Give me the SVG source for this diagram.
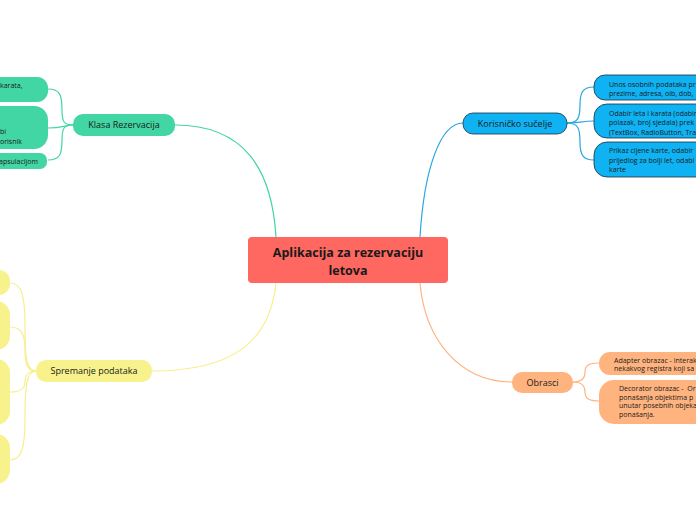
<svg xmlns="http://www.w3.org/2000/svg" width="696" height="520" viewBox="0 0 696 520">
<style>
text{font-family:"Open Sans","DejaVu Sans",sans-serif;fill:#1a1a1a}
.main{font-size:12.5px;font-weight:bold;text-anchor:middle}
.br{font-size:9px;text-anchor:middle}
.ch{font-size:7px;white-space:pre}
.c{fill:none;stroke-width:1.2}
.g{stroke:#41d6a3}.b{stroke:#2aa6e0}.y{stroke:#f7ef8c}.o{stroke:#ffb480}
.gf{fill:#41d6a3}.bf{fill:#0fb2f2;stroke:#1a3040;stroke-width:0.8}.yf{fill:#f8f28c}.of{fill:#ffb480}
</style>
<rect width="696" height="520" fill="#ffffff"/>
<g id="connectors">
<path class="c g" d="M276,237 C272,170 245,125 175,125"/>
<path class="c b" d="M420,237 C424,170 440,123 463,123"/>
<path class="c y" d="M276,283 C270,340 235,371 152,371"/>
<path class="c o" d="M420,283 C425,340 460,382 512,382"/>
<path class="c g" d="M73,125 C64,125 62,122 62,110 C62,95 60,89 48,89"/>
<path class="c g" d="M73,125 C66,125 62,128 48,128"/>
<path class="c g" d="M73,125 C64,125 62,128 62,140 C62,154 60,160 48,160"/>
<path class="c b" d="M567,123 C578,123 580,118 580,105 C580,92 583,87 594,87"/>
<path class="c b" d="M567,123 C578,123 582,121 594,121"/>
<path class="c b" d="M567,123 C578,123 580,128 580,142 C580,155 583,160 594,160"/>
<path class="c o" d="M573,382 C582,382 585,378 585,372 C585,366 588,363 599,363"/>
<path class="c o" d="M573,382 C582,382 585,386 585,392 C585,398 588,401 599,401"/>
<path class="c y" d="M36,371 C27,371 25,360 25,330 C25,295 22,283 10,283"/>
<path class="c y" d="M36,371 C28,371 25,365 25,350 C25,335 22,327 10,327"/>
<path class="c y" d="M36,371 C28,371 25,375 25,382 C25,388 22,392 10,392"/>
<path class="c y" d="M36,371 C27,371 25,385 25,415 C25,448 22,460 10,460"/>
</g>
<g id="central">
<rect x="248" y="237" width="200" height="46" rx="4" fill="#ff6761"/>
<text class="main" x="348" y="257">Aplikacija za rezervaciju</text>
<text class="main" x="348" y="275">letova</text>
</g>
<g id="klasa-rezervacija">
<rect class="gf" x="73" y="114" width="102" height="22" rx="10"/>
<text class="br" x="124" y="128">Klasa Rezervacija</text>
</g>
<g id="klasa-child-1">
<rect class="gf" x="-40" y="77" width="88" height="25" rx="11"/>
<text class="ch" x="0" y="88">karata,</text>
</g>
<g id="klasa-child-2">
<rect class="gf" x="-40" y="106" width="88" height="43" rx="14"/>
<text class="ch" x="0" y="134">bi</text>
<text class="ch" x="0" y="144">orisnik</text>
</g>
<g id="klasa-child-3">
<rect class="gf" x="-40" y="153" width="87" height="16" rx="7"/>
<text class="ch" x="-1" y="164">apsulacijom</text>
</g>
<g id="korisnicko-sucelje">
<rect class="bf" x="463" y="113" width="104" height="21" rx="10"/>
<text class="br" x="515" y="126.5">Korisničko sučelje</text>
</g>
<g id="ks-child-1">
<rect class="bf" x="594" y="75" width="140" height="25" rx="11"/>
<text class="ch" x="609" y="87">Unos osobnih podataka pr</text>
<text class="ch" x="609" y="96">prezime, adresa, oib, dob,</text>
</g>
<g id="ks-child-2">
<rect class="bf" x="594" y="104" width="140" height="34" rx="13"/>
<text class="ch" x="609" y="115.5">Odabir leta i karata (odabir</text>
<text class="ch" x="609" y="125">polazak, broj sjedala) prek</text>
<text class="ch" x="609" y="134.5">(TextBox, RadioButton, Tra</text>
</g>
<g id="ks-child-3">
<rect class="bf" x="594" y="142" width="140" height="35" rx="13"/>
<text class="ch" x="609" y="153">Prikaz cijene karte, odabir</text>
<text class="ch" x="609" y="162.5">prijedlog za bolji let, odabi</text>
<text class="ch" x="609" y="172">karte</text>
</g>
<g id="spremanje-podataka">
<rect class="yf" x="36" y="360" width="116" height="22" rx="10"/>
<text class="br" x="94" y="374">Spremanje podataka</text>
</g>
<g id="sp-child-1"><rect class="yf" x="-40" y="270" width="50" height="25" rx="11"/></g>
<g id="sp-child-2"><rect class="yf" x="-40" y="301" width="50" height="49" rx="14"/></g>
<g id="sp-child-3"><rect class="yf" x="-40" y="359" width="50" height="66" rx="14"/></g>
<g id="sp-child-4"><rect class="yf" x="-40" y="434" width="50" height="50" rx="14"/></g>
<g id="obrasci">
<rect class="of" x="512" y="372" width="61" height="21" rx="10"/>
<text class="br" x="542.5" y="385.5">Obrasci</text>
</g>
<g id="ob-child-1">
<rect class="of" x="599" y="352" width="140" height="23" rx="11"/>
<text class="ch" x="614" y="362.5">Adapter obrazac - interak</text>
<text class="ch" x="614" y="371">nekakvog registra koji sa</text>
</g>
<g id="ob-child-2">
<rect class="of" x="599" y="380" width="140" height="44" rx="15"/>
<text class="ch" x="619" y="391">Decorator obrazac -  Or</text>
<text class="ch" x="619" y="399.5">ponašanja objektima p</text>
<text class="ch" x="619" y="408">unutar posebnih objeka</text>
<text class="ch" x="619" y="416.5">ponašanja.</text>
</g>
</svg>
